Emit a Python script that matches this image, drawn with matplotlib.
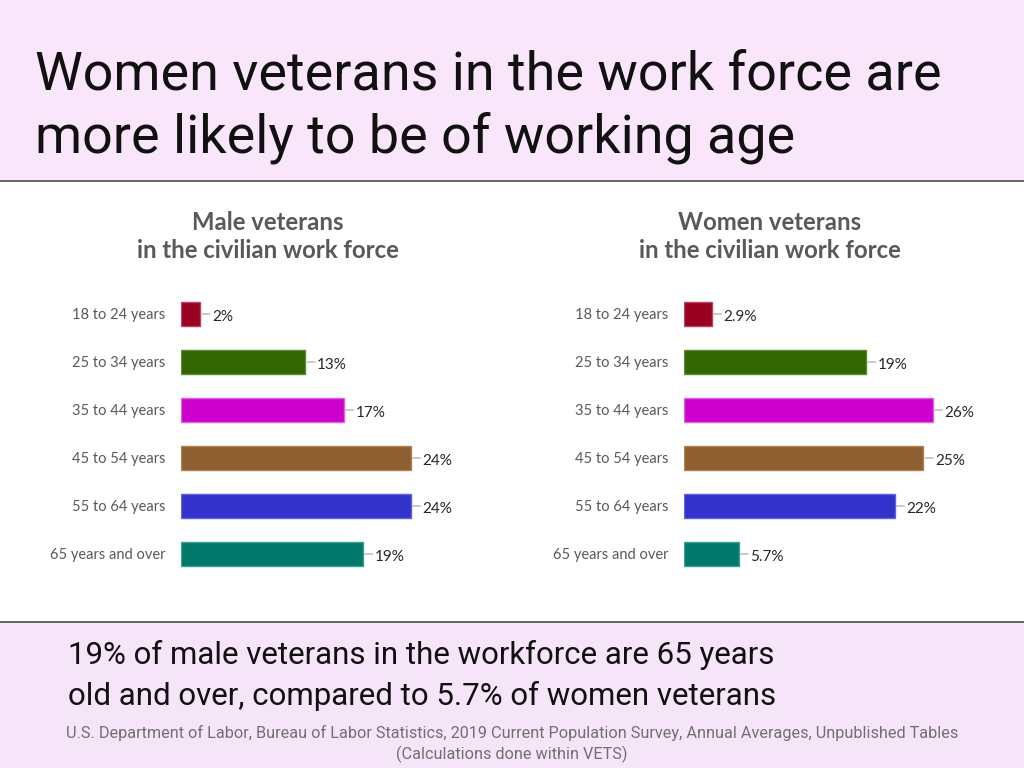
import matplotlib
matplotlib.use("Agg")
import matplotlib.pyplot as plt
from matplotlib.patches import Rectangle
from matplotlib.lines import Line2D

# ---- data ----
age_groups = ["18 to 24 years", "25 to 34 years", "35 to 44 years",
              "45 to 54 years", "55 to 64 years", "65 years and over"]
male_values = [2, 13, 17, 24, 24, 19]
male_labels = ["2%", "13%", "17%", "24%", "24%", "19%"]
women_values = [2.9, 19, 26, 25, 22, 5.7]
women_labels = ["2.9%", "19%", "26%", "25%", "22%", "5.7%"]
bar_colors = ["#990022", "#336600", "#cc00cc", "#8e5f30", "#3333cc", "#00796b"]
edge_colors = ["#b8455c", "#5a8a30", "#e060e0", "#b08050", "#6060e0", "#3aa090"]

title_line1 = "Women veterans in the work force are"
title_line2 = "more likely to be of working age"
male_title = ["Male veterans", "in the civilian work force"]
women_title = ["Women veterans", "in the civilian work force"]
note_line1 = "19% of male veterans in the workforce are 65 years"
note_line2 = "old and over, compared to 5.7% of women veterans"
source_line1 = ("U.S. Department of Labor, Bureau of Labor Statistics, 2019 Current Population Survey, "
                "Annual Averages, Unpublished Tables")
source_line2 = "(Calculations done within VETS)"

W, H = 1024, 768
fig = plt.figure(figsize=(W / 100, H / 100), dpi=100)
fig.patch.set_facecolor("white")

def fx(px):
    return px / W

def fy(py):
    return 1 - py / H

# background bands
fig.add_artist(Rectangle((0, fy(180)), 1, 180 / H, transform=fig.transFigure,
                         facecolor="#f9e6fb", edgecolor="none", zorder=0))
fig.add_artist(Rectangle((0, 0), 1, (H - 622) / H, transform=fig.transFigure,
                         facecolor="#f6e4f8", edgecolor="none", zorder=0))
fig.add_artist(Line2D([0, 1], [fy(180.5), fy(180.5)], transform=fig.transFigure,
                      color="#4a4a4a", lw=1.2))
fig.add_artist(Line2D([0, 1], [fy(622), fy(622)], transform=fig.transFigure,
                      color="#4a4a4a", lw=1.2))

# title
fig.text(fx(35), fy(90), title_line1, fontsize=38.8,
         family="Roboto", color="#111111", ha="left", va="baseline")
fig.text(fx(35), fy(152), title_line2, fontsize=38.8,
         family="Roboto", color="#111111", ha="left", va="baseline")

# bottom notes
fig.text(fx(68), fy(664), note_line1, fontsize=22.5, family="Roboto",
         color="#111111", ha="left", va="baseline")
fig.text(fx(68), fy(705), note_line2, fontsize=22.5, family="Roboto",
         color="#111111", ha="left", va="baseline")
fig.text(0.5, fy(738), source_line1, fontsize=11.7, family="Roboto", color="#707070",
         ha="center", va="baseline")
fig.text(0.5, fy(759), source_line2, fontsize=11.7, family="Roboto", color="#707070",
         ha="center", va="baseline")

SCALE = 9.57  # px per percent
XMAX = 30

def panel(x0, values, labels, heading, head_cx):
    ax = fig.add_axes([fx(x0), fy(578), fx(SCALE * XMAX), (578 - 290) / H])
    ax.set_facecolor("none")
    y = list(range(len(values)))
    ax.barh(y, values, height=0.5, color=bar_colors, edgecolor=edge_colors, linewidth=1.0)
    ax.set_xlim(0, XMAX)
    ax.set_ylim(len(values) - 0.5, -0.5)
    ax.set_yticks(y)
    ax.set_yticklabels(age_groups, family="Lato", fontsize=10.5, color="#595959")
    ax.tick_params(axis="y", length=0, pad=11)
    ax.set_xticks([])
    for s in ax.spines.values():
        s.set_visible(False)
    for yi, v, lab in zip(y, values, labels):
        ax.annotate("", xy=(v, yi), xycoords="data",
                    xytext=(7, 0), textcoords="offset points",
                    arrowprops=dict(arrowstyle="-", color="#a0a0a0", lw=0.8,
                                    shrinkA=0, shrinkB=1.5))
        ax.annotate(lab, xy=(v, yi), xycoords="data", xytext=(8.5, -2),
                    textcoords="offset points", ha="left", va="center",
                    family="Lato", fontsize=11, color="#262626")
    fig.text(fx(head_cx), fy(222), heading[0], ha="center", va="center",
             family="Lato", fontweight="bold", fontsize=17.2, color="#595959")
    fig.text(fx(head_cx), fy(251), heading[1], ha="center", va="center",
             family="Lato", fontweight="bold", fontsize=17.2, color="#595959")
    return ax

panel(181, male_values, male_labels, male_title, 268)
panel(684, women_values, women_labels, women_title, 770)

fig.savefig("out.png", dpi=100, facecolor=fig.get_facecolor())
